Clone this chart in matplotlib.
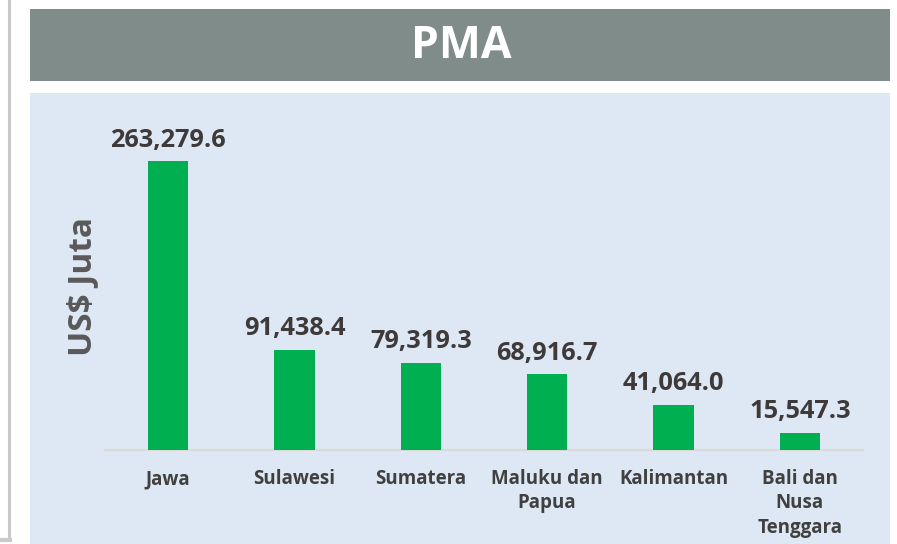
import matplotlib
matplotlib.use("Agg")
import matplotlib.pyplot as plt
from matplotlib.patches import Rectangle
from matplotlib.lines import Line2D

plt.rcParams['font.family'] = ['Open Sans', 'DejaVu Sans']

categories = ["Jawa", "Sulawesi", "Sumatera", "Maluku dan\nPapua", "Kalimantan", "Bali dan\nNusa\nTenggara"]
values = [263279.6, 91438.4, 79319.3, 68916.7, 41064.0, 15547.3]
value_labels = ["263,279.6", "91,438.4", "79,319.3", "68,916.7", "41,064.0", "15,547.3"]
title = "PMA"
ylabel = "US$ Juta"

W, H = 897, 544
fig = plt.figure(figsize=(W / 100, H / 100), dpi=100)
fig.patch.set_facecolor("white")

def fx(x):
    return x / W

def fy(y):
    return 1 - y / H

# title banner
fig.add_artist(Rectangle((fx(30), fy(81)), fx(860), (81 - 9) / H,
                         transform=fig.transFigure, facecolor="#7F8C8A", edgecolor="none", zorder=0))
fig.text(fx(461), fy(46), title, ha="center", va="center", color="white",
         fontsize=32, fontweight="bold")

# panel background
fig.add_artist(Rectangle((fx(30), 0), fx(860), (544 - 93) / H,
                         transform=fig.transFigure, facecolor="#DEE8F4", edgecolor="none", zorder=0))

# left shadow line
fig.add_artist(Line2D([fx(8.5), fx(8.5)], [fy(539), 1], transform=fig.transFigure,
                      color="#C9C9C9", linewidth=2.2))
fig.add_artist(Line2D([0, fx(9.5)], [fy(540), fy(540)], transform=fig.transFigure,
                      color="#C9C9C9", linewidth=3))

ax = fig.add_axes([fx(105), fy(450), fx(863 - 105), (450 - 120) / H])
ax.patch.set_alpha(0)
x = list(range(len(categories)))
bars = ax.bar(x, values, width=0.317, color="#00B050", zorder=3)
ax.set_xlim(-0.5, len(categories) - 0.5)
ax.set_ylim(0, 301000)

for xi, v, lab in zip(x, values, value_labels):
    ax.annotate(lab, (xi, v), xytext=(0, 10.5), textcoords="offset points",
                ha="center", va="baseline", fontsize=18.3, fontweight="bold", color="#3F3A3A")

ax.set_xticks(x)
ax.set_xticklabels(categories, fontsize=13.5, fontweight="bold", color="#404040", linespacing=1.27)
ax.tick_params(axis="x", length=0, pad=14)
ax.set_yticks([])
for s in ["left", "right", "top"]:
    ax.spines[s].set_visible(False)
ax.spines["bottom"].set_color("#D9D9D9")
ax.spines["bottom"].set_linewidth(1.6)

fig.text(fx(83), fy(287), ylabel, rotation=90, ha="center", va="center",
         fontsize=24, fontweight="bold", color="#595959")

fig.savefig("out.png", dpi=100, facecolor="white")
